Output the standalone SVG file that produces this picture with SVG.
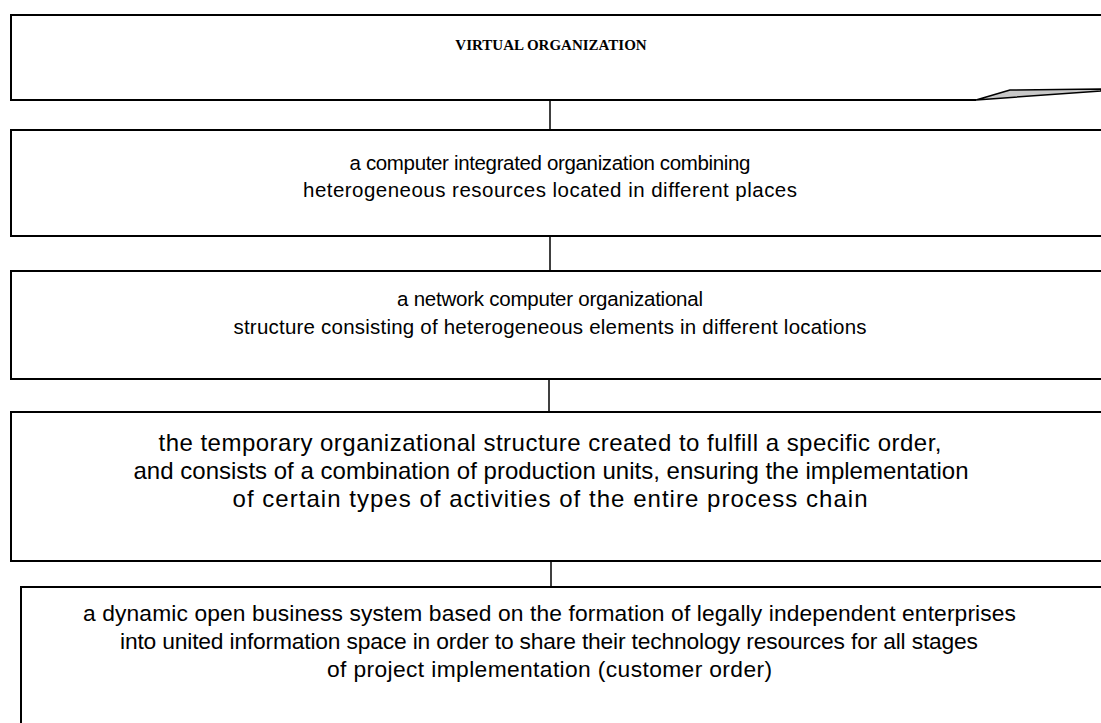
<svg xmlns="http://www.w3.org/2000/svg" width="1101" height="723" viewBox="0 0 1101 723">
<style>
.box{fill:#fff;stroke:#000;stroke-width:2}
.con{stroke:#000;stroke-width:1.5;fill:none}
.t{font-family:"Liberation Sans",Arial,sans-serif;font-size:20.5px;fill:#000;text-anchor:middle}
.t4{font-size:24px}
.t5{font-size:22.8px}
.h{font-family:"Liberation Serif","Times New Roman",serif;font-size:15px;font-weight:bold;fill:#000;text-anchor:middle}
</style>
<rect width="1101" height="723" fill="#fff"/>
<g id="n1">
<path class="box" d="M1110,15 H11 V100 H976"/>
<polygon points="976,100 1010,90 1101,89 1101,91" fill="#c8c8c8" stroke="#000" stroke-width="1.5" stroke-linejoin="round"/>
<text class="h" x="551" y="50">VIRTUAL ORGANIZATION</text>
</g>
<g id="n2">
<rect class="box" x="11" y="130" width="1100" height="106"/>
<text class="t" x="550" y="170" font-size="20" textLength="401" lengthAdjust="spacing">a computer integrated organization combining</text>
<text class="t" x="550" y="197" font-size="21" textLength="494" lengthAdjust="spacing">heterogeneous resources located in different places</text>
</g>
<g id="n3">
<rect class="box" x="11" y="271" width="1100" height="108"/>
<text class="t" x="550" y="306" font-size="20" textLength="306" lengthAdjust="spacing">a network computer organizational</text>
<text class="t" x="550" y="334" textLength="633" lengthAdjust="spacing">structure consisting of heterogeneous elements in different locations</text>
</g>
<g id="n4">
<rect class="box" x="11" y="412" width="1100" height="149"/>
<text class="t t4" x="550" y="451" textLength="783" lengthAdjust="spacing">the temporary organizational structure created to fulfill a specific order,</text>
<text class="t t4" x="551" y="479" textLength="835" lengthAdjust="spacing">and consists of a combination of production units, ensuring the implementation</text>
<text class="t t4" x="550" y="507" textLength="635" lengthAdjust="spacing">of certain types of activities of the entire process chain</text>
</g>
<g id="n5">
<rect class="box" x="21" y="587" width="1100" height="150"/>
<text class="t t5" x="549.5" y="621" textLength="933" lengthAdjust="spacing">a dynamic open business system based on the formation of legally independent enterprises</text>
<text class="t t5" x="549" y="649" textLength="858" lengthAdjust="spacing">into united information space in order to share their technology resources for all stages</text>
<text class="t t5" x="549.5" y="677" textLength="445" lengthAdjust="spacing">of project implementation (customer order)</text>
</g>
<g id="connectors">
<line class="con" x1="550" y1="100" x2="550" y2="130"/>
<line class="con" x1="550" y1="236" x2="550" y2="271"/>
<line class="con" x1="549" y1="379" x2="549" y2="412"/>
<line class="con" x1="551" y1="561" x2="551" y2="587"/>
</g>
</svg>
